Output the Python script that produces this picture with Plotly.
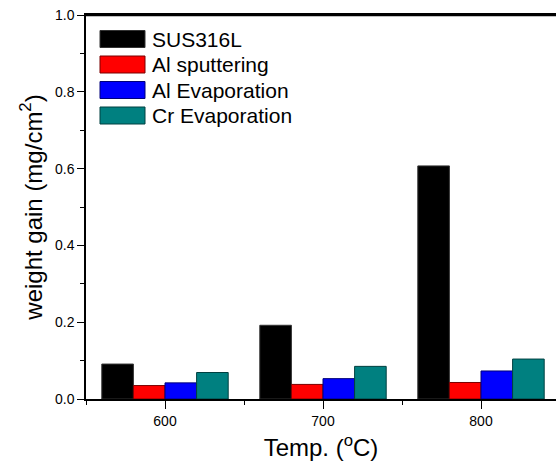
import plotly.graph_objects as go

temps = [600, 700, 800]
series_names = ["SUS316L", "Al sputtering", "Al Evaporation", "Cr Evaporation"]
sus316l = [0.091, 0.192, 0.607]
al_sputtering = [0.035, 0.038, 0.043]
al_evaporation = [0.042, 0.053, 0.073]
cr_evaporation = [0.069, 0.085, 0.104]
series_values = [sus316l, al_sputtering, al_evaporation, cr_evaporation]
colors = ["#000000", "#FF0000", "#0000FF", "#008080"]
edges = ["#333333", "#7a0000", "#00007a", "#004040"]

W, H = 556, 474
plot_left, plot_top, plot_bottom, plot_right = 86, 15, 399, 556
L, T, B, R = plot_left, plot_top, H - plot_bottom, W - plot_right
pw, ph = plot_right - plot_left, plot_bottom - plot_top

def px_x(x):
    return (x - plot_left) / pw

def px_y(y):
    return (plot_bottom - y) / ph

fig = go.Figure()
for name, vals, c, e in zip(series_names, series_values, colors, edges):
    fig.add_trace(go.Bar(x=temps, y=vals, name=name, marker=dict(color=c, line=dict(color=e, width=1)),
                         showlegend=False))

# frame band along the top of the plot area (drawn as a thin filled rectangle)
shapes = [dict(type="rect", xref="paper", yref="paper", x0=px_x(85), x1=1.0,
               y0=px_y(16.2), y1=px_y(14), fillcolor="black", line=dict(width=0), layer="above")]
annotations = []
# custom legend (large swatches like the original)
row_centers = [39, 64.5, 90, 115.5]
for name, c, e, yc in zip(series_names, colors, edges, row_centers):
    shapes.append(dict(type="rect", xref="paper", yref="paper",
                       x0=px_x(100), x1=px_x(145),
                       y0=px_y(yc + 8.5), y1=px_y(yc - 8.5),
                       fillcolor=c, line=dict(color=e, width=1)))
    annotations.append(dict(xref="paper", yref="paper", x=px_x(150), y=px_y(yc),
                            text=name, showarrow=False, xanchor="left", yanchor="middle",
                            font=dict(size=21, color="black", family="Liberation Sans, Arial, sans-serif")))

fig.update_layout(
    width=W, height=H,
    margin=dict(l=L, r=R, t=T, b=B, autoexpand=False),
    paper_bgcolor="white", plot_bgcolor="white",
    barmode="group", bargap=0.2, bargroupgap=0,
    font=dict(family="Liberation Sans, Arial, sans-serif", color="black"),
    shapes=shapes, annotations=annotations,
    xaxis=dict(
        automargin=False,
        range=[550, 550 + pw * 100 / 158],
        tickmode="array", tickvals=temps, ticktext=[str(t) for t in temps],
        ticks="outside", ticklen=8, tickwidth=1, tickcolor="black",
        minor=dict(dtick=50, tick0=550, ticks="outside", ticklen=4, tickcolor="black"),
        showline=True, linecolor="black", linewidth=1.5, mirror=True,
        showgrid=False, zeroline=False,
        tickfont=dict(size=14),
        title=dict(text="Temp. (<sup>o</sup>C)", font=dict(size=24), standoff=12),
    ),
    yaxis=dict(
        automargin=False,
        range=[0, 1.0],
        tickmode="array", tickvals=[0, 0.2, 0.4, 0.6, 0.8, 1.0],
        ticktext=["0.0", "0.2", "0.4", "0.6", "0.8", "1.0"],
        ticks="outside", ticklen=7, tickwidth=1, tickcolor="black",
        minor=dict(dtick=0.1, ticks="outside", ticklen=4, tickcolor="black"),
        showline=True, linecolor="black", linewidth=1.5,
        showgrid=False, zeroline=False,
        tickfont=dict(size=14),
        title=dict(text="weight gain (mg/cm<sup>2</sup>)", font=dict(size=24), standoff=6),
    ),
)

fig.write_html("out.html", config={"displayModeBar": False},
               post_script="document.body.style.margin='0';document.body.style.overflow='hidden';")
